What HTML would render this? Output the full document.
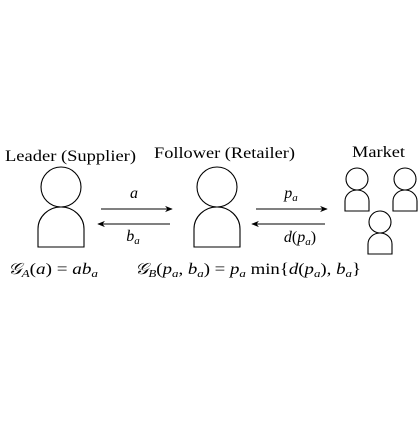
<!DOCTYPE html>
<html><head><meta charset="utf-8"><style>
html,body{margin:0;padding:0;background:#fff}
svg text{font-family:"Liberation Serif",serif;fill:#000}
.i{font-style:italic}
</style></head><body>
<svg width="420" height="420" viewBox="0 0 420 420">
<defs><marker id="ah" viewBox="0 0 10 10" refX="9" refY="5" markerWidth="7" markerHeight="7" orient="auto"><path d="M0,1 L10,5 L0,9 L3,5 Z" fill="#000"/></marker></defs>
<g fill="none" stroke="#000" stroke-width="1.1">
<g>
<circle cx="61" cy="187" r="20"/>
<path d="M38,247 L38,229 A23,22 0 0 1 84,229 L84,247 Z"/>
</g>
<g>
<circle cx="217" cy="187" r="20"/>
<path d="M194,247 L194,229 A23,22 0 0 1 240,229 L240,247 Z"/>
</g>
<g>
<circle cx="357" cy="179" r="11"/>
<path d="M345,211 L345,201 A12,11 0 0 1 369,201 L369,211 Z"/>
</g>
<g>
<circle cx="405" cy="179" r="11"/>
<path d="M393,211 L393,201 A12,11 0 0 1 417,201 L417,211 Z"/>
</g>
<g>
<circle cx="380" cy="222" r="11"/>
<path d="M368,254 L368,244 A12,11 0 0 1 392,244 L392,254 Z"/>
</g>
<line x1="101" y1="209" x2="172" y2="209" marker-end="url(#ah)"/>
<line x1="170" y1="224" x2="98" y2="224" marker-end="url(#ah)"/>
<line x1="256" y1="209" x2="327" y2="209" marker-end="url(#ah)"/>
<line x1="325" y1="224" x2="252" y2="224" marker-end="url(#ah)"/>
</g>
<text x="5" y="161" font-size="16" textLength="131" lengthAdjust="spacingAndGlyphs">Leader (Supplier)</text>
<text x="154" y="158" font-size="16" textLength="141" lengthAdjust="spacingAndGlyphs">Follower (Retailer)</text>
<text x="352" y="157" font-size="16" textLength="53" lengthAdjust="spacingAndGlyphs">Market</text>
<text x="134" y="198" font-size="16" text-anchor="middle" class="i">a</text>
<text x="133" y="241" font-size="16" text-anchor="middle"><tspan class="i">b</tspan><tspan class="i" font-size="11" dy="3">a</tspan></text>
<text x="291" y="198" font-size="16" text-anchor="middle"><tspan class="i">p</tspan><tspan class="i" font-size="11" dy="3">a</tspan></text>
<text x="300" y="242" font-size="16" text-anchor="middle"><tspan class="i">d</tspan>(<tspan class="i">p</tspan><tspan class="i" font-size="11" dy="3">a</tspan><tspan dy="-3">)</tspan></text>
<text x="8" y="274" font-size="16" textLength="90" lengthAdjust="spacingAndGlyphs"><tspan class="i">𝒢</tspan><tspan class="i" font-size="11" dy="3">A</tspan><tspan dy="-3">(</tspan><tspan class="i">a</tspan>) = <tspan class="i">ab</tspan><tspan class="i" font-size="11" dy="3">a</tspan></text>
<text x="135" y="274" font-size="16" textLength="226" lengthAdjust="spacingAndGlyphs"><tspan class="i">𝒢</tspan><tspan class="i" font-size="11" dy="3">B</tspan><tspan dy="-3">(</tspan><tspan class="i">p</tspan><tspan class="i" font-size="11" dy="3">a</tspan><tspan dy="-3">, </tspan><tspan class="i">b</tspan><tspan class="i" font-size="11" dy="3">a</tspan><tspan dy="-3">) = </tspan><tspan class="i">p</tspan><tspan class="i" font-size="11" dy="3">a</tspan><tspan dy="-3"> min{</tspan><tspan class="i">d</tspan>(<tspan class="i">p</tspan><tspan class="i" font-size="11" dy="3">a</tspan><tspan dy="-3">), </tspan><tspan class="i">b</tspan><tspan class="i" font-size="11" dy="3">a</tspan><tspan dy="-3">}</tspan></text>
</svg>
</body></html>
